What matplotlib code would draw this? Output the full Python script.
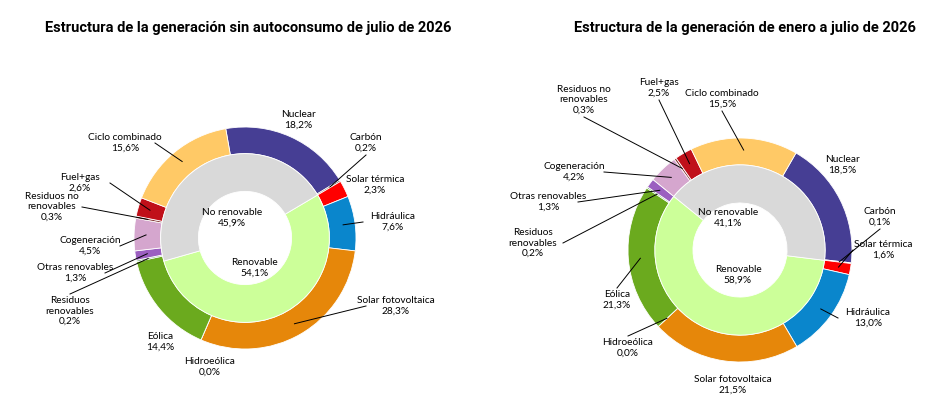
import matplotlib.pyplot as plt
import numpy as np

TECH = ["Nuclear", "Carbón", "Solar térmica", "Hidráulica", "Solar fotovoltaica", "Hidroeólica",
        "Eólica", "Residuos renovables", "Otras renovables", "Cogeneración",
        "Residuos no renovables", "Fuel+gas", "Ciclo combinado"]
JUL = [18.2, 0.2, 2.3, 7.6, 28.3, 0.0, 14.4, 0.2, 1.3, 4.5, 0.3, 2.6, 15.6]
ENE_JUL = [18.5, 0.1, 1.6, 13.0, 21.5, 0.0, 21.3, 0.2, 1.3, 4.2, 0.3, 2.5, 15.5]
INNER = ["Renovable", "No renovable"]
JUL_INNER = [54.1, 45.9]
ENE_JUL_INNER = [58.9, 41.1]

COLORS = ["#463E94", "#3A3A3A", "#FF0000", "#0A86CC", "#E6870A", "#2F6FBF",
          "#6BAA1E", "#3E8E3E", "#9B5FC0", "#D5A6CE", "#7F2F2F", "#C0101A", "#FFC966"]
INNER_COLORS = ["#CCFF99", "#D9D9D9"]

TEXT = {
    "Residuos renovables": "Residuos\nrenovables",
    "Residuos no renovables": "Residuos no\nrenovables",
}

# label positions in pixels (x, y from top)
LEFT_POS = [(298, 120), (366, 143), (375, 185), (393, 222), (396, 306), (210, 367), (160, 342),
            (70, 311), (75, 273), (90, 246), (52, 207), (80, 183), (125, 143)]
RIGHT_POS = [(842, 165), (880, 217), (883, 250), (868, 318), (733, 385), (628, 348), (617, 300),
             (533, 243), (548, 202), (574, 172), (584, 100), (659, 88), (722, 99)]

H = 419
fig = plt.figure(figsize=(9.5, 4.19), dpi=100)
ax = fig.add_axes([0, 0, 1, 1])
FONT = "Lato"


def donut(cx, cy, R, vals, inner, start, pos, inner_pos):
    total = sum(vals)
    ax.pie(vals, radius=R, center=(cx, H - cy), colors=COLORS, startangle=start, counterclock=False,
           wedgeprops={"width": R * 0.24, "edgecolor": "white", "linewidth": 0.6}, frame=True)
    ren_start = start - 360 * sum(vals[:2]) / total
    ax.pie(inner, radius=R * 0.76, center=(cx, H - cy), colors=INNER_COLORS, startangle=ren_start,
           counterclock=False, wedgeprops={"width": R * 0.34, "edgecolor": "white", "linewidth": 0.6},
           frame=True)
    ang = start
    for name, v, (lx, ly) in zip(TECH, vals, pos):
        mid = np.radians(ang - 180 * v / total)
        ang -= 360 * v / total
        wx, wy = cx + (R - 12) * np.cos(mid), cy - (R - 12) * np.sin(mid)
        lab = f"{TEXT.get(name, name)}\n{v:.1f}%".replace(".", ",")
        ax.text(lx, H - ly, lab, ha="center", va="center", fontsize=7.3, family=FONT, linespacing=1.15)
        dx, dy = wx - lx, wy - ly
        if abs(dx) > abs(dy) * 1.5:
            axx, ayy = lx + np.sign(dx) * 30, ly
        else:
            axx, ayy = lx, ly + np.sign(dy) * (17 if "\n" in TEXT.get(name, "") else 12)
        if np.hypot(dx, dy) > 45:
            ax.plot([axx, wx], [H - ayy, H - wy], color="black", lw=0.7)
    for name, v, (lx, ly) in zip(INNER, inner, inner_pos):
        ax.text(lx, H - ly, f"{name}\n{v:.1f}%".replace(".", ","), ha="center", va="center",
                fontsize=7.3, family=FONT)


donut(245, 238, 111, JUL, JUL_INNER, 100, LEFT_POS, [(255, 268), (232, 218)])
donut(740, 250, 112, ENE_JUL, ENE_JUL_INNER, 60, RIGHT_POS, [(738, 275), (728, 218)])
ax.set_xlim(0, 950)
ax.set_ylim(0, H)
ax.set_aspect("equal")
ax.axis("off")

ax.text(248, H - 28, "Estructura de la generación sin autoconsumo de julio de 2026", ha="center",
        va="center", fontsize=10.5, weight="bold", family="Roboto")
ax.text(745, H - 28, "Estructura de la generación de enero a julio de 2026", ha="center",
        va="center", fontsize=10.5, weight="bold", family="Roboto")

fig.savefig("out.png", dpi=100, facecolor="white")
